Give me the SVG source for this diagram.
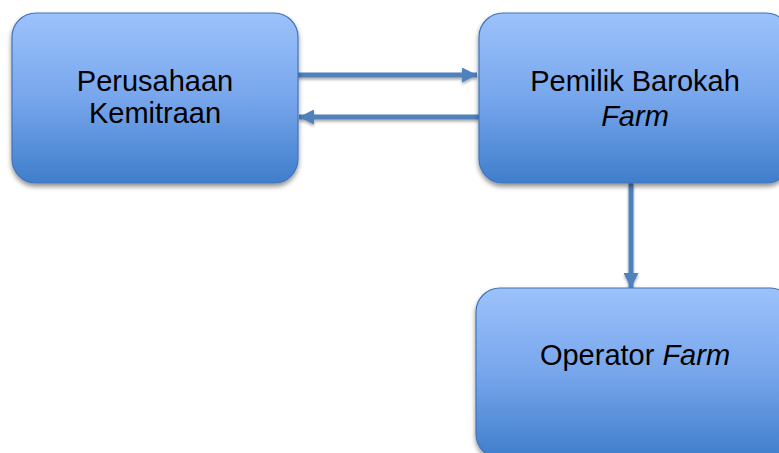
<svg xmlns="http://www.w3.org/2000/svg" width="779" height="453" viewBox="0 0 779 453">
  <style>
    .box { fill: url(#grad); stroke: #4274b8; stroke-width: 1.2; filter: url(#shadow); }
    .label { font-family: "Liberation Sans", Arial, sans-serif; font-size: 29px; fill: #000; text-anchor: middle; }
    .it { font-style: italic; }
    .conn { stroke: #4f81bd; stroke-width: 5; fill: none; }
  </style>
  <defs>
    <linearGradient id="grad" x1="0" y1="0" x2="0" y2="1">
      <stop offset="0" stop-color="#9cc2fb"/>
      <stop offset="0.5" stop-color="#77a6ec"/>
      <stop offset="1" stop-color="#3f7ecb"/>
    </linearGradient>
    <filter id="shadow" x="-10%" y="-10%" width="120%" height="130%">
      <feGaussianBlur in="SourceAlpha" stdDeviation="2.5"/>
      <feOffset dx="0" dy="3" result="b"/>
      <feComponentTransfer><feFuncA type="linear" slope="0.45"/></feComponentTransfer>
      <feMerge><feMergeNode/><feMergeNode in="SourceGraphic"/></feMerge>
    </filter>
    <filter id="lshadow" filterUnits="userSpaceOnUse" x="0" y="0" width="779" height="453">
      <feGaussianBlur in="SourceAlpha" stdDeviation="1.5"/>
      <feOffset dx="0" dy="2" result="b"/>
      <feComponentTransfer><feFuncA type="linear" slope="0.35"/></feComponentTransfer>
      <feMerge><feMergeNode/><feMergeNode in="SourceGraphic"/></feMerge>
    </filter>
    <marker id="arrow" viewBox="0 0 3 3" refX="3" refY="1.5" markerWidth="3" markerHeight="3" orient="auto" markerUnits="strokeWidth">
      <path d="M0,0 L3,1.5 L0,3 Z" fill="#4f81bd"/>
    </marker>
  </defs>

  <g id="connectors" filter="url(#lshadow)">
    <line class="conn" x1="298" y1="75" x2="477" y2="75" marker-end="url(#arrow)"/>
    <line class="conn" x1="479" y1="117" x2="299" y2="117" marker-end="url(#arrow)"/>
    <line class="conn" x1="631" y1="183" x2="631" y2="288" marker-end="url(#arrow)"/>
  </g>

  <g id="node-perusahaan">
    <rect class="box" x="12" y="13" width="286" height="170" rx="24" ry="24"/>
    <text class="label" x="155" y="91">Perusahaan</text>
    <text class="label" x="155" y="123">Kemitraan</text>
  </g>

  <g id="node-pemilik">
    <rect class="box" x="479" y="13" width="311" height="170" rx="24" ry="24"/>
    <text class="label" x="635" y="91">Pemilik Barokah</text>
    <text class="label it" x="635" y="126">Farm</text>
  </g>

  <g id="node-operator">
    <rect class="box" x="476" y="288" width="318" height="170" rx="24" ry="24"/>
    <text class="label" x="635" y="365">Operator <tspan class="it">Farm</tspan></text>
  </g>
</svg>
